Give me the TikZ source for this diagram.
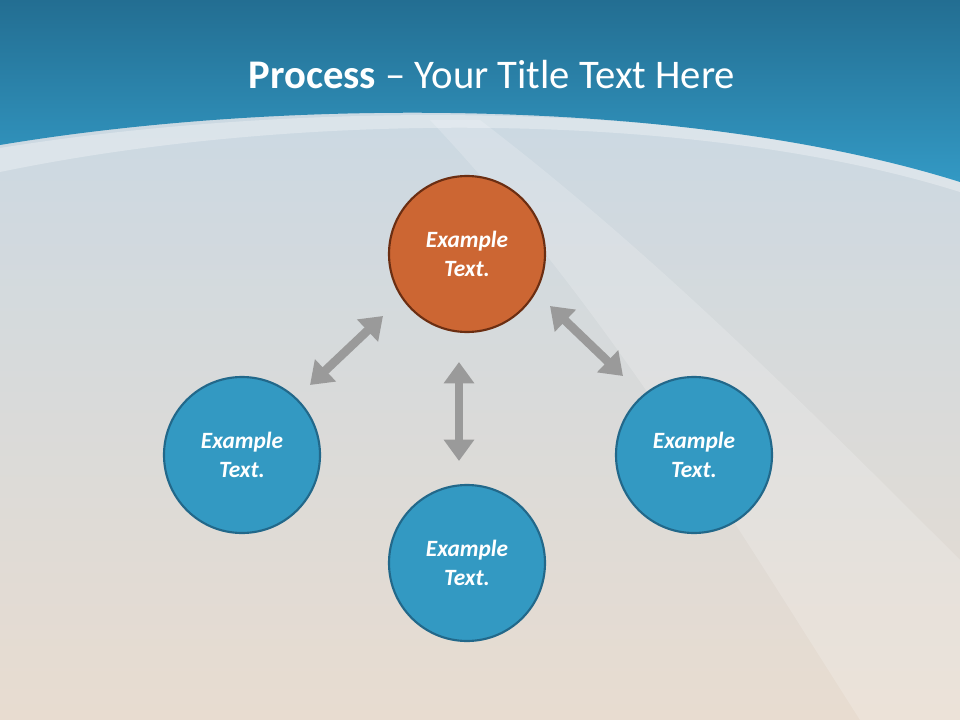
\documentclass[tikz,border=0pt]{standalone}
\usepackage{fontspec}
\setmainfont{Carlito}
\usetikzlibrary{arrows.meta}
\definecolor{bluefill}{HTML}{3399C2}
\definecolor{blueline}{HTML}{22688A}
\definecolor{orfill}{HTML}{CC6633}
\definecolor{orline}{HTML}{6B2E12}
\definecolor{band}{HTML}{3399C4}
\definecolor{bandtop}{HTML}{236E92}
\definecolor{bgA}{HTML}{C6D8E6}
\definecolor{bgB}{HTML}{E8DCD0}
\definecolor{arr}{HTML}{9A9A9A}
\tikzset{
 circ/.style={circle,minimum size=117pt,line width=1.6pt,text=white,font=\fontsize{17.5}{22}\selectfont\bfseries\itshape,align=center},
 bnode/.style={circ,fill=bluefill,draw=blueline},
 onode/.style={circ,fill=orfill,draw=orline},
 darr/.style={arr,line width=6.5pt,{Triangle[length=16pt,width=22pt]}-{Triangle[length=16pt,width=22pt]}}
}
\begin{document}
\begin{tikzpicture}[x=0.75pt,y=-0.75pt]
\useasboundingbox (0,0) rectangle (960,720);
\shade[top color=bgA,bottom color=bgB] (0,0) rectangle (960,720);
\fill[white,opacity=0.18] (430,120) .. controls (600,300) and (720,500) .. (860,720) -- (960,720) -- (960,560) .. controls (800,400) and (650,250) .. (480,120) -- cycle;
\fill[white,opacity=0.3] (0,172) .. controls (300,110) and (700,110) .. (960,192) -- (960,178) .. controls (700,100) and (300,100) .. (0,148) -- cycle;
\shade[top color=bandtop,bottom color=band] (0,0) -- (960,0) -- (960,182) .. controls (700,100) and (300,95) .. (0,145) -- cycle;
\node[text=white,font=\fontsize{30.5}{34}\selectfont] (title) at (492,75) {\textbf{Process} -- Your Title Text Here};
\node[onode] (top) at (467,254) {Example\\Text.};
\node[bnode] (left) at (242,455) {Example\\Text.};
\node[bnode] (right) at (694,455) {Example\\Text.};
\node[bnode] (bottom) at (467,563) {Example\\Text.};
\coordinate (a1) at (310,385); \coordinate (a2) at (383,316);
\coordinate (b1) at (550,306); \coordinate (b2) at (623,376);
\coordinate (c1) at (459,362); \coordinate (c2) at (459,461);
\draw[darr] (a1) -- (a2);
\draw[darr] (b1) -- (b2);
\draw[darr] (c1) -- (c2);
\end{tikzpicture}
\end{document}
